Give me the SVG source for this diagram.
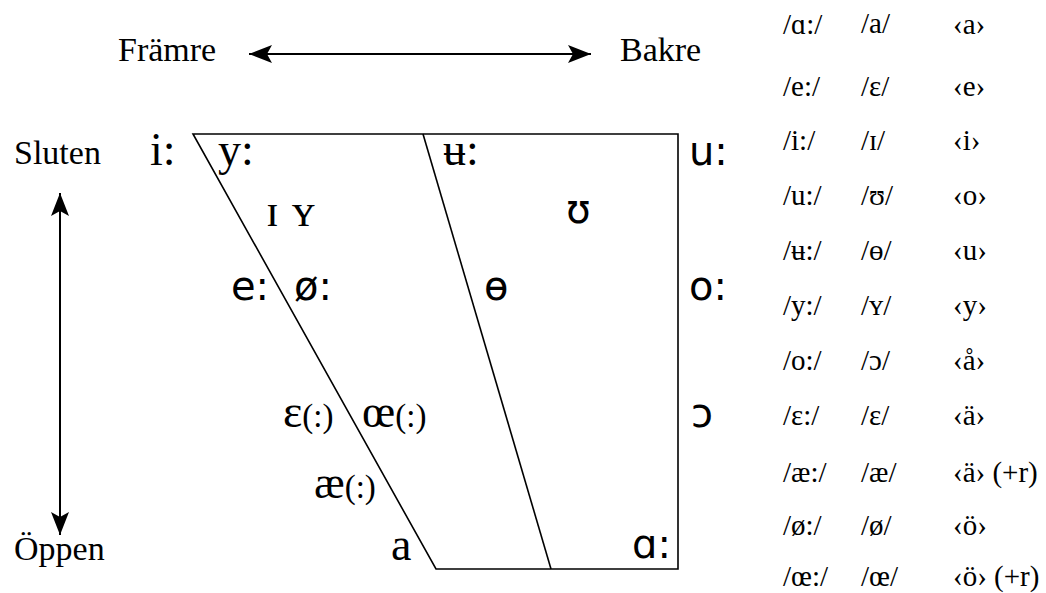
<svg xmlns="http://www.w3.org/2000/svg" width="1046" height="593" viewBox="0 0 1046 593">
<style>
.lbl{font-family:"Liberation Serif","Times New Roman",serif;font-size:34px;fill:#000}
.v{font-family:"Liberation Serif","Times New Roman",serif;font-size:46px;fill:#000}
.vs{font-family:"DejaVu Sans",sans-serif;font-size:40px;fill:#000}
.sm{font-size:33px}
.t{font-family:"Liberation Serif","Times New Roman",serif;font-size:29px;fill:#000}
.ln{fill:none;stroke:#000;stroke-width:1.6}
.ar{fill:none;stroke:#000;stroke-width:2}
</style>
<defs>
<marker id="ah" markerWidth="23" markerHeight="18" refX="23" refY="9" orient="auto-start-reverse" markerUnits="userSpaceOnUse">
<path d="M0,0 L23,9 L0,18 L5,9 Z" fill="#000"/>
</marker>
</defs>
<rect width="1046" height="593" fill="#fff"/>
<g id="chart">
<polygon class="ln" points="193,134 678,134 678,569 436,569"/>
<line class="ln" x1="423" y1="134" x2="551" y2="569"/>
</g>
<g id="connectors">
<line class="ar" x1="249" y1="54" x2="591" y2="54" marker-start="url(#ah)" marker-end="url(#ah)"/>
<line class="ar" x1="60" y1="193" x2="60" y2="535" marker-start="url(#ah)" marker-end="url(#ah)"/>
</g>
<g id="axis-labels">
<text id="framre" class="lbl" x="118" y="61">Främre</text>
<text id="bakre" class="lbl" x="620" y="61">Bakre</text>
<text id="sluten" class="lbl" x="14" y="164">Sluten</text>
<text id="oppen" class="lbl" x="14" y="560">Öppen</text>
</g>
<g id="vowels">
<text id="v-i" class="v" x="150" y="165">i:</text>
<text id="v-y" class="v" x="218" y="165">y:</text>
<text id="v-ubar" class="v" x="443" y="165">ʉ:</text>
<text id="v-u" class="vs" x="689" y="165">u:</text>
<text id="v-I" class="v" x="266" y="226" font-size="40">ɪ</text>
<text id="v-Y" class="v" x="292" y="226" font-size="40">ʏ</text>
<text id="v-U" class="vs" x="566" y="223">ʊ</text>
<text id="v-e" class="vs" x="231" y="300">e:</text>
<text id="v-oe" class="vs" x="294" y="300">ø:</text>
<text id="v-obar" class="vs" x="484" y="300">ɵ</text>
<text id="v-o" class="vs" x="689" y="300">o:</text>
<text id="v-eps" class="v" x="283" y="427">ɛ<tspan class="sm">(:)</tspan></text>
<text id="v-oelig" class="v" x="362" y="427">œ<tspan class="sm">(:)</tspan></text>
<text id="v-open-o" class="vs" x="691" y="427">ɔ</text>
<text id="v-ae" class="v" x="314" y="498">æ<tspan class="sm">(:)</tspan></text>
<text id="v-a" class="v" x="391" y="560">a</text>
<text id="v-alpha" class="vs" x="632" y="558">ɑ:</text>
</g>
<g id="table">
<text class="t" x="783" y="34">/ɑ:/</text><text class="t" x="861" y="33">/a/</text><text class="t" x="953" y="34">‹a›</text>
<text class="t" x="783" y="96">/e:/</text><text class="t" x="861" y="96">/ɛ/</text><text class="t" x="953" y="96">‹e›</text>
<text class="t" x="783" y="150">/i:/</text><text class="t" x="861" y="150">/ɪ/</text><text class="t" x="953" y="150">‹i›</text>
<text class="t" x="783" y="205">/u:/</text><text class="t" x="861" y="205">/ʊ/</text><text class="t" x="953" y="205">‹o›</text>
<text class="t" x="783" y="260">/ʉ:/</text><text class="t" x="861" y="260">/ɵ/</text><text class="t" x="953" y="260">‹u›</text>
<text class="t" x="783" y="315">/y:/</text><text class="t" x="861" y="315">/ʏ/</text><text class="t" x="953" y="315">‹y›</text>
<text class="t" x="783" y="370">/o:/</text><text class="t" x="861" y="370">/ɔ/</text><text class="t" x="953" y="370">‹å›</text>
<text class="t" x="783" y="425">/ɛ:/</text><text class="t" x="861" y="425">/ɛ/</text><text class="t" x="953" y="425">‹ä›</text>
<text class="t" x="783" y="482">/æ:/</text><text class="t" x="861" y="482">/æ/</text><text class="t" x="953" y="482">‹ä› (+r)</text>
<text class="t" x="783" y="535">/ø:/</text><text class="t" x="861" y="535">/ø/</text><text class="t" x="953" y="535">‹ö›</text>
<text class="t" x="783" y="586">/œ:/</text><text class="t" x="861" y="586">/œ/</text><text class="t" x="953" y="586">‹ö› (+r)</text>
</g>
</svg>
